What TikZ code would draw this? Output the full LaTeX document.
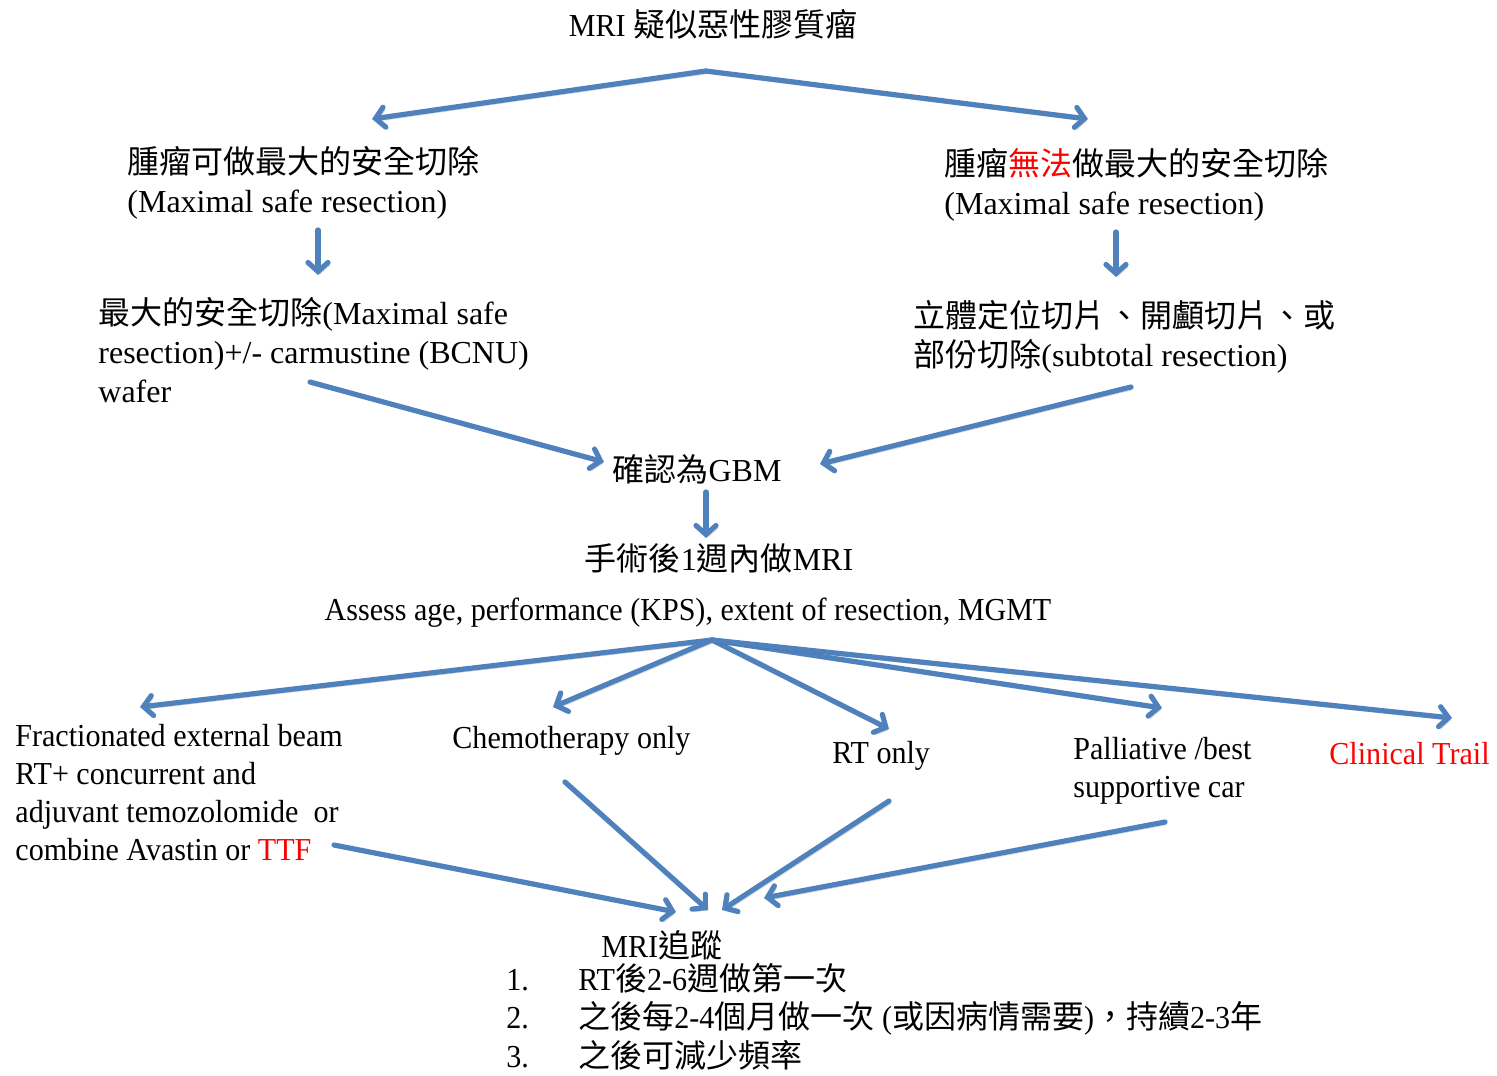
\documentclass[tikz,border=0pt]{standalone}
\usepackage{fontspec}
\setmainfont{Liberation Serif}
\newfontfamily\cjk{Noto Sans CJK TC}
\newfontfamily\narrow[FakeStretch=0.94]{Liberation Serif}
\usetikzlibrary{calc, positioning}
\usetikzlibrary{arrows.meta}
\definecolor{flowblue}{RGB}{79,129,189}
\newcommand{\zh}[1]{{\cjk #1}}

\begin{document}
\begin{tikzpicture}[x=0.5pt, y=-0.5pt,
  flow/.style={draw=flowblue, line width=2.6pt, line cap=round,
    -{Straight Barb[length=4.5pt, width=10pt, line cap=round]},
    preaction={draw=black, draw opacity=0.15, transform canvas={shift={(1pt,-1.3pt)}}}},
  txt/.style={inner sep=0pt, align=left, font=\fontsize{16}{19.5}\selectfont},
  thin/.style={inner sep=0pt, align=left, font=\fontsize{16}{19}\selectfont\narrow}]
\useasboundingbox (0,0) rectangle (1497,1075);

\node[thin] (title) at (713,24) {MRI \zh{疑似惡性膠質瘤}};

\node[txt, anchor=west] (canres) at (127,183)
  {\zh{腫瘤可做最大的安全切除}\\(Maximal safe resection)};
\node[txt, anchor=west] (cannot) at (944,185)
  {\zh{腫瘤\textcolor{red}{無法}做最大的安全切除}\\(Maximal safe resection)};
\node[txt, anchor=west] (maxres) at (98,350)
  {\zh{最大的安全切除}(Maximal safe\\resection)+/- carmustine (BCNU)\\wafer};
\node[txt, anchor=west] (subtot) at (913,337)
  {\zh{立體定位切片\hspace{1.5pt}、開顱切片\hspace{1.5pt}、或}\\\zh{部份切除}(subtotal resection)};

\node[txt] (gbm) at (697,469) {\zh{確認為}GBM};
\node[txt] (postop) at (719,558) {\zh{手術後}1\zh{週內做}MRI};
\node[thin] (assess) at (688,613) {Assess age, performance (KPS), extent of resection, MGMT};

\node[thin, anchor=west] (radio) at (15,793)
  {Fractionated external beam\\RT+ concurrent and\\adjuvant temozolomide\ \ or\\combine Avastin or \textcolor{red}{TTF}};
\node[thin, anchor=west] (chemo) at (452,741) {Chemotherapy only};
\node[thin, anchor=west] (rtonly) at (832,756) {RT only};
\node[thin, anchor=west] (pall) at (1073,771) {Palliative /best\\supportive car};
\node[thin, anchor=west, text=red] (trial) at (1329,754) {Clinical Trail};

\node[thin, anchor=west] (follow) at (601,945) {MRI\zh{追蹤}};
\node[thin, anchor=west, font=\fontsize{16}{18.75}\selectfont\narrow] (plan) at (506,1021)
  {\begin{tabular}{@{}p{36pt}@{}l@{}}
   1. & RT\zh{後}2-6\zh{週做第一次}\\
   2. & \zh{之後每}2-4\zh{個月做一次} (\zh{或因病情需要})\zh{，持續}2-3\zh{年}\\
   3. & \zh{之後可減少頻率}
   \end{tabular}};

\coordinate (fork) at (706,71);
\coordinate (forkL) at (372,119);
\coordinate (forkR) at (1088,119);
\coordinate (downLa) at (318,230);
\coordinate (downLb) at (318,275);
\coordinate (downRa) at (1116,232);
\coordinate (downRb) at (1116,277);
\coordinate (inLa) at (310,382);
\coordinate (inLb) at (604,462);
\coordinate (inRa) at (1131,387);
\coordinate (inRb) at (820,464);
\coordinate (gbmA) at (706,492);
\coordinate (gbmB) at (706,538);
\coordinate (fan) at (712,640);
\coordinate (fanA) at (140,707);
\coordinate (fanB) at (553,707);
\coordinate (fanC) at (889,729);
\coordinate (fanD) at (1162,708);
\coordinate (fanE) at (1452,718);
\coordinate (outA) at (334,845);
\coordinate (outB) at (565,782);
\coordinate (outC) at (889,801);
\coordinate (outD) at (1165,822);
\coordinate (endA) at (676,912);
\coordinate (endB) at (708,910);
\coordinate (endC) at (722,910);
\coordinate (endD) at (764,898);

\draw[flow] (fork) -- (forkL);
\draw[flow] (fork) -- (forkR);
\draw[flow] (downLa) -- (downLb);
\draw[flow] (downRa) -- (downRb);
\draw[flow] (inLa) -- (inLb);
\draw[flow] (inRa) -- (inRb);
\draw[flow] (gbmA) -- (gbmB);
\foreach \t in {fanA,fanB,fanC,fanD,fanE}
  \draw[flow] (fan) -- (\t);
\draw[flow] (outA) -- (endA);
\draw[flow] (outB) -- (endB);
\draw[flow] (outC) -- (endC);
\draw[flow] (outD) -- (endD);
\end{tikzpicture}
\end{document}
